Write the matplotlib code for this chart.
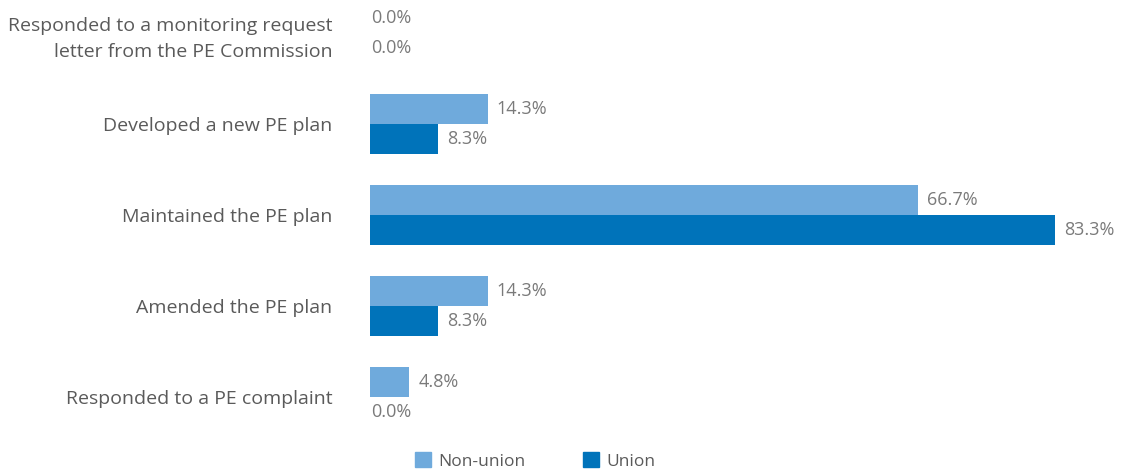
import matplotlib.pyplot as plt
import numpy as np
from matplotlib.patches import Patch

categories = [
    "Responded to a monitoring request\nletter from the PE Commission",
    "Developed a new PE plan",
    "Maintained the PE plan",
    "Amended the PE plan",
    "Responded to a PE complaint",
]
non_union = [0.0, 14.3, 66.7, 14.3, 4.8]
union = [0.0, 8.3, 83.3, 8.3, 0.0]

LIGHT = "#6FAADC"
DARK = "#0073BA"
CAT_COLOR = "#5A5A5A"
VAL_COLOR = "#7A7A7A"

plt.rcParams["font.family"] = ["Open Sans", "DejaVu Sans"]

fig = plt.figure(figsize=(11.38, 4.70), dpi=100)
ax = fig.add_axes([370 / 1138, 1 - 443 / 470, 768 / 1138, 443 / 470])

y = np.arange(len(categories))
h = 0.33
ax.barh(y - h / 2, non_union, height=h, color=LIGHT)
ax.barh(y + h / 2, union, height=h, color=DARK)

# value labels just past the end of each bar
for vals, off in ((non_union, -h / 2), (union, h / 2)):
    for i, v in enumerate(vals):
        pad = 6.5 if v > 0 else 1
        ax.annotate(f"{v:.1f}%", (v, i + off), xytext=(pad, 0),
                    textcoords="offset points", va="center", ha="left",
                    fontsize=13, color=VAL_COLOR)

ax.set_xlim(0, 93.4)
ax.set_ylim(4.5, -0.365)
ax.set_yticks(y)
ax.set_yticklabels(categories, fontsize=14, color=CAT_COLOR, linespacing=1.55)
ax.tick_params(axis="y", length=0, pad=27)
ax.set_xticks([])
for s in ax.spines.values():
    s.set_visible(False)

handles = [Patch(color=LIGHT, label="Non-union"), Patch(color=DARK, label="Union")]
leg = fig.legend(handles=handles, loc="center", ncol=2,
                 bbox_to_anchor=(535 / 1138, 1 - 461 / 470), frameon=False,
                 fontsize=12.5, handlelength=0.95, handleheight=0.95,
                 handletextpad=0.4, columnspacing=3.3)
for t in leg.get_texts():
    t.set_color(CAT_COLOR)

fig.savefig("out.png", dpi=100)
